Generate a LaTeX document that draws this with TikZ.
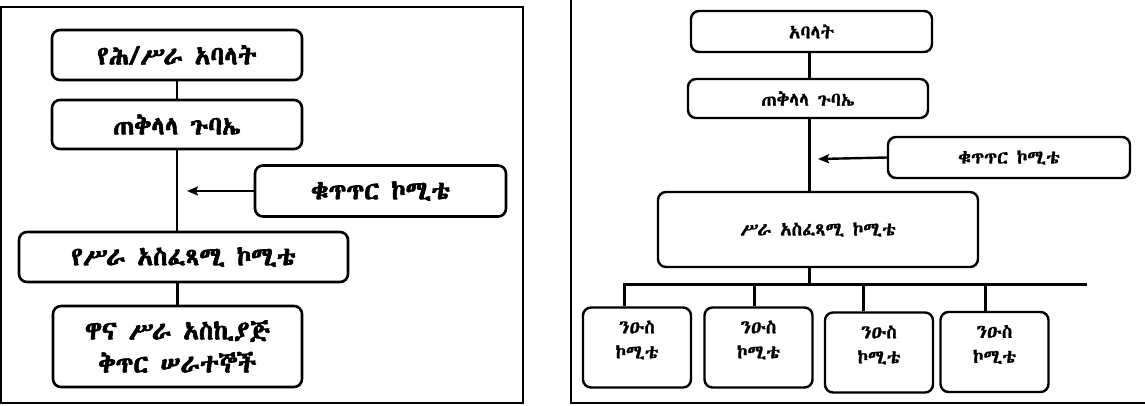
\documentclass[tikz,border=0pt]{standalone}
\usepackage{fontspec}
\IfFontExistsTF{Abyssinica SIL}
  {\newfontfamily\ethfont{Abyssinica SIL}[AutoFakeBold=2.5]
   \newfontfamily\ethmed{Abyssinica SIL}[FakeBold=1.1]}
  {\IfFontExistsTF{FreeSerif}
    {\newfontfamily\ethfont{FreeSerif}
     \newfontfamily\ethmed{FreeSerif}}
    {\newfontfamily\ethfont{DejaVu Sans}
     \newfontfamily\ethmed{DejaVu Sans}}}
\usetikzlibrary{arrows.meta, positioning, calc}
\tikzset{
  % Chart styles
  orgbox/.style={rectangle, rounded corners=8pt, draw=black, line width=2.6pt, fill=white, text centered, align=center, inner sep=2pt},
  bigorg/.style={orgbox, font=\ethfont\bfseries\fontsize{26}{33}\selectfont},
  smallorg/.style={orgbox, line width=2.4pt, font=\ethmed\fontsize{19}{25}\selectfont},
  wire/.style={draw=black, line width=#1},
  wire/.default={2.2pt},
  arrow/.style={-{Stealth[length=11pt, width=9pt, inset=2pt]}, draw=black, line width=2.4pt},
  panel/.style={draw=black, line width=1.4pt},
}
\begin{document}
\begin{tikzpicture}[x=1pt, y=-1pt]
    \useasboundingbox (0,0) rectangle (1145,405);

    % Panel frames
    \draw[panel] (1,7) rectangle (523,403);
    \draw[panel] (571,-5) rectangle (1150,403);

    % Left chart
    \node[bigorg, minimum width=250pt, minimum height=50pt] (lmem) at (177,55) {የሕ/ሥራ አባላት};
    \node[bigorg, minimum width=250pt, minimum height=49pt] (lgen) at (177,124.5) {ጠቅላላ ጉባኤ};
    \node[bigorg, minimum width=251pt, minimum height=51pt] (lctl) at (380.5,191) {ቁጥጥር ኮሚቴ};
    \node[bigorg, minimum width=329pt, minimum height=50pt] (lexe) at (183.5,257) {የሥራ አስፈጻሚ ኮሚቴ};
    \node[bigorg, minimum width=249pt, minimum height=81pt] (lstaff) at (177.5,346.5) {ዋና ሥራ አስኪያጅ\\ቅጥር ሠራተኞች};

    \draw[wire] (lmem) -- (lgen);
    \draw[wire] (lgen.south) -- (lgen.south |- lexe.north);
    \draw[wire] (lexe.south -| lstaff) -- (lstaff.north);

    % Control arrow
    \coordinate (ltip) at (187,191);
    \draw[arrow] (lctl.west) -- (ltip);

    % Right chart
    \coordinate (rspine) at (809,0);
    \node[smallorg, minimum width=241pt, minimum height=41pt] (rmem) at (811.5,31.5) {አባላት};
    \node[smallorg, minimum width=240pt, minimum height=39pt] (rgen) at (808,98.5) {ጠቅላላ ጉባኤ};
    \node[smallorg, minimum width=242pt, minimum height=41pt] (rctl) at (1009,157.5) {ቁጥጥር ኮሚቴ};
    \node[smallorg, minimum width=320pt, minimum height=75pt] (rexe) at (818,229.5) {ሥራ አስፈጻሚ ኮሚቴ};

    \draw[wire=3pt] (rmem.south -| rspine) -- (rgen.north -| rspine);
    \draw[wire=3pt] (rgen.south -| rspine) -- (rexe.north -| rspine);

    \coordinate (rtip) at (818,159);
    \draw[arrow] (rctl.west) -- (rtip);

    % Bus to sub-committees
    \coordinate (busL) at (623,284);
    \coordinate (busR) at (1087,284);
    \draw[wire=3pt] (rexe.south -| rspine) -- (rspine |- busL);
    \draw[wire=3pt] (busL) -- (busR);

    \foreach \i/\cx/\cy/\dx in {1/637/347.5/624, 2/758.5/347.5/754, 3/879/352.5/863, 4/994.5/352/985} {
      \node[smallorg, minimum width=108pt, minimum height=80pt, text depth=16pt] (sub\i) at (\cx,\cy) {ንዑስ\\ኮሚቴ};
      \coordinate (drop\i) at (\dx,284);
      \draw[wire=3pt] (drop\i) -- (drop\i |- sub\i.north);
    }
\end{tikzpicture}
\end{document}
